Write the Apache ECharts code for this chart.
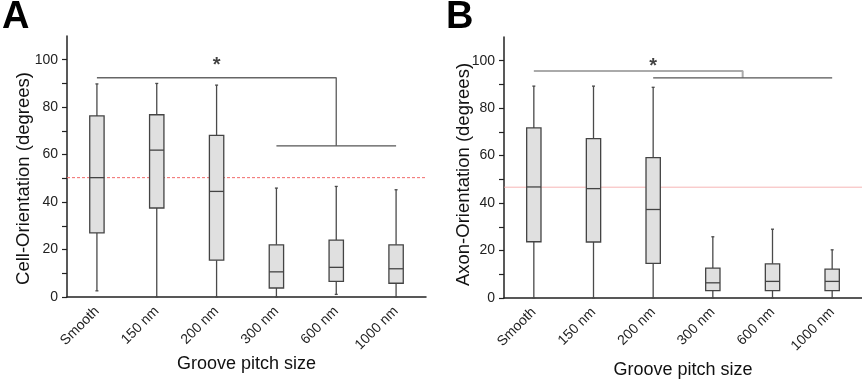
<!DOCTYPE html>
<html>
<head>
<meta charset="utf-8">
<script src="https://cdn.jsdelivr.net/npm/echarts@6/dist/echarts.min.js"></script>
<style>html,body{margin:0;padding:0;background:#fff}#c{width:862px;height:379px}</style>
</head>
<body>
<div id="c"></div>
<script>
// ---------- data ----------
const categories = ['Smooth', '150 nm', '200 nm', '300 nm', '600 nm', '1000 nm'];

// Panel A: cell orientation (degrees)
const cellLow    = [2.6, 0.0, 0.0, 0.0, 1.1, 0.0];
const cellQ1     = [27.0, 37.5, 15.5, 3.8, 6.6, 5.8];
const cellMedian = [50.3, 61.9, 44.5, 10.6, 12.5, 11.9];
const cellQ3     = [76.3, 76.8, 68.1, 22.0, 24.0, 22.0];
const cellHigh   = [89.8, 90.0, 89.3, 45.9, 46.6, 45.2];
const cellReference = 50.3;

// Panel B: axon orientation (degrees)
const axonLow    = [0.0, 0.0, 0.0, 0.0, 0.0, 0.0];
const axonQ1     = [23.7, 23.6, 14.6, 3.1, 3.1, 3.1];
const axonMedian = [46.8, 46.1, 37.3, 6.4, 7.0, 7.0];
const axonQ3     = [71.7, 67.2, 59.2, 12.6, 14.4, 12.2];
const axonHigh   = [89.3, 89.3, 88.8, 25.8, 29.0, 20.3];
const axonReference = 46.7;

// significance brackets: [categoryIndex, value]
const cellBracketTop    = [[0, 92.4], [4, 92.4], [4, 63.7]];
const cellBracketBottom = [[3, 63.7], [5, 63.7]];
const cellStar = [2, 99.2];
const axonBracketTop    = [[0, 95.7], [3.5, 95.7], [3.5, 92.8]];
const axonBracketBottom = [[2, 92.8], [5, 92.8]];
const axonStar = [2, 99.3];

const yLabelValues = [0, 20, 40, 60, 80, 100];
const yTickValues  = [0, 10, 20, 30, 40, 50, 60, 70, 80, 90, 100];
const yMin = 0, yMax = 110;
const xMin = -0.5, xMax = 5.5;   // category band edges

// ---------- helpers ----------
function boxData(lo, q1, md, q3, hi) {
  return categories.map((c, i) => [i, lo[i], q1[i], md[i], q3[i], hi[i]]);
}
function renderBox(params, api) {
  const x = api.value(0);
  const lo = api.coord([x, api.value(1)]);
  const q1 = api.coord([x, api.value(2)]);
  const md = api.coord([x, api.value(3)]);
  const q3 = api.coord([x, api.value(4)]);
  const hi = api.coord([x, api.value(5)]);
  const w = api.size([1, 0])[0] * 0.24;
  const cx = md[0];
  const wStyle = { stroke: '#4a4a4a', lineWidth: 1.3 };
  const bStyle = { stroke: '#444', lineWidth: 1.3 };
  return {
    type: 'group',
    children: [
      { type: 'line', shape: { x1: cx, y1: lo[1], x2: cx, y2: q1[1] }, style: wStyle },
      { type: 'line', shape: { x1: cx, y1: q3[1], x2: cx, y2: hi[1] }, style: wStyle },
      { type: 'line', shape: { x1: cx - 1.5, y1: hi[1], x2: cx + 1.5, y2: hi[1] }, style: wStyle },
      { type: 'line', shape: { x1: cx - 1.5, y1: lo[1], x2: cx + 1.5, y2: lo[1] }, style: wStyle },
      { type: 'rect', shape: { x: cx - w / 2, y: q3[1], width: w, height: q1[1] - q3[1] },
        style: { fill: '#e0e0e0', stroke: '#444', lineWidth: 1.3 } },
      { type: 'line', shape: { x1: cx - w / 2, y1: md[1], x2: cx + w / 2, y2: md[1] }, style: bStyle }
    ]
  };
}

const FONT = 'Liberation Sans, Arial, Helvetica, sans-serif';
const axisColor = '#222';

function catAxis(gridIndex, nameGap) {
  return {
    type: 'category', gridIndex, data: categories, boundaryGap: true,
    name: 'Groove pitch size', nameLocation: 'middle', nameGap, nameMoveOverlap: false,
    nameTextStyle: { fontFamily: FONT, fontSize: 18, color: '#111' },
    axisLine: { onZero: false, lineStyle: { color: axisColor, width: 1.5 } },
    axisTick: { alignWithLabel: true, length: 6, lineStyle: { color: axisColor, width: 1.3 } },
    axisLabel: { rotate: 45, margin: 12, fontFamily: FONT, fontSize: 14, color: '#222', interval: 0 },
    splitLine: { show: false }
  };
}
function hiddenValueX(gridIndex) {
  return { type: 'value', gridIndex, min: xMin, max: xMax, show: false, splitLine: { show: false },
           axisLine: { show: false, onZero: false } };
}
function valAxis(gridIndex, name, nameGap, pad) {
  return {
    type: 'value', gridIndex, min: yMin, max: yMax,
    name, nameLocation: 'middle', nameGap, nameRotate: 90, nameMoveOverlap: false,
    nameTextStyle: { fontFamily: FONT, fontSize: 18.5, color: '#111', padding: pad },
    axisLine: { show: true, onZero: false, lineStyle: { color: axisColor, width: 1.5 } },
    axisTick: { show: true, length: 5, customValues: yTickValues, lineStyle: { color: axisColor, width: 1.2 } },
    axisLabel: { margin: 9, fontFamily: FONT, fontSize: 14, color: '#222', customValues: yLabelValues },
    splitLine: { show: false }
  };
}
function plainLine(xi, yi, data, color, width, type, z) {
  return {
    type: 'line', xAxisIndex: xi, yAxisIndex: yi, data, symbol: 'none', silent: true,
    itemStyle: { color }, lineStyle: { color, width, type: type || 'solid', opacity: 1 }, z: z || 3
  };
}
function star(xi, yi, pt) {
  return {
    type: 'scatter', xAxisIndex: xi, yAxisIndex: yi, data: [pt], symbolSize: 1,
    itemStyle: { color: 'rgba(0,0,0,0)' }, silent: true,
    label: { show: true, position: 'inside', formatter: '*', fontFamily: FONT,
             fontWeight: 'bold', fontSize: 20, color: '#111', offset: [0, 4] }
  };
}

const option = {
  animation: false,
  backgroundColor: '#fff',
  grid: [
    { left: 67, top: 36, width: 359, bottom: 82, containLabel: false, outerBoundsMode: 'none' },
    { left: 504, top: 37, width: 358, bottom: 81, containLabel: false, outerBoundsMode: 'none' }
  ],
  xAxis: [catAxis(0, 58), catAxis(1, 63), hiddenValueX(0), hiddenValueX(1)],
  yAxis: [
    valAxis(0, 'Cell-Orientation (degrees)', 34, [0, 24, 0, 0]),
    valAxis(1, 'Axon-Orientation (degrees)', 31, [0, 14, 0, 0])
  ],
  graphic: [
    { type: 'text', left: 2, top: -1, style: { text: 'A', fontFamily: FONT, fontWeight: 'bold', fontSize: 38, fill: '#000' } },
    { type: 'text', left: 446, top: -1, style: { text: 'B', fontFamily: FONT, fontWeight: 'bold', fontSize: 38, fill: '#000' } }
  ],
  series: [
    plainLine(2, 0, [[xMin, cellReference], [xMax, cellReference]], '#f26a6a', 1, [3, 2], 1),
    plainLine(3, 1, [[xMin, axonReference], [xMax, axonReference]], '#f4a3a3', 0.8, 'solid', 1),
    {
      type: 'custom', xAxisIndex: 0, yAxisIndex: 0, renderItem: renderBox,
      data: boxData(cellLow, cellQ1, cellMedian, cellQ3, cellHigh), z: 2
    },
    {
      type: 'custom', xAxisIndex: 1, yAxisIndex: 1, renderItem: renderBox,
      data: boxData(axonLow, axonQ1, axonMedian, axonQ3, axonHigh), z: 2
    },
    plainLine(2, 0, cellBracketTop, '#666', 1.4),
    plainLine(2, 0, cellBracketBottom, '#555', 1.3),
    plainLine(3, 1, axonBracketTop, '#aaa', 2),
    plainLine(3, 1, axonBracketBottom, '#555', 1.3),
    star(2, 0, cellStar),
    star(3, 1, axonStar)
  ]
};

const chart = echarts.init(document.getElementById('c'), null, { renderer: 'canvas' });
chart.setOption(option);
</script>
</body>
</html>
